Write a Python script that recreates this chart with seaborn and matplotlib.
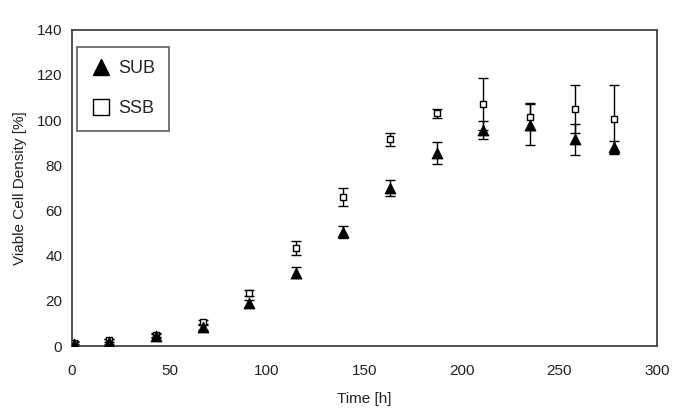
import numpy as np
import pandas as pd
import seaborn as sns
import matplotlib
matplotlib.use("Agg")
import matplotlib.pyplot as plt
from matplotlib.lines import Line2D

# Values
time_h = [1, 19, 43, 67, 91, 115, 139, 163, 187, 211, 235, 258, 278]
sub_mean = [1.0, 2.0, 4.5, 8.5, 19.0, 32.5, 50.5, 70.0, 85.5, 95.5, 98.0, 91.5, 88.0]
sub_err = [0.8, 1.0, 1.0, 1.2, 1.5, 2.5, 2.5, 3.5, 4.7, 4.0, 9.0, 7.0, 3.0]
ssb_mean = [1.5, 2.5, 5.0, 10.5, 23.5, 43.5, 66.0, 91.5, 103.0, 107.0, 101.5, 105.0, 100.5]
ssb_err = [0.8, 0.8, 1.0, 1.2, 1.5, 3.0, 4.0, 3.0, 2.0, 11.5, 6.0, 10.5, 15.0]

df = pd.DataFrame({
    "time": time_h * 2,
    "value": sub_mean + ssb_mean,
    "err": sub_err + ssb_err,
    "group": ["SUB"] * len(time_h) + ["SSB"] * len(time_h),
})

sns.set_style("white")
plt.rcParams["font.family"] = ["Liberation Sans", "DejaVu Sans"]

fig = plt.figure(figsize=(6.85, 4.2), dpi=100)
ax = fig.add_axes([0.105, 0.176, 0.854, 0.753])

edge = "#333333"

# error bars first, markers on top
for grp in ["SSB", "SUB"]:
    d = df[df["group"] == grp]
    ax.errorbar(d["time"], d["value"], yerr=d["err"], fmt="none",
                ecolor="black", elinewidth=1.0, capsize=3.3, capthick=1.0, zorder=2)

d = df[df["group"] == "SSB"]
sns.scatterplot(x=d["time"], y=d["value"], marker="s", s=24,
                facecolor="white", edgecolor="black", linewidth=1.0, ax=ax, zorder=3)
d = df[df["group"] == "SUB"]
sns.scatterplot(x=d["time"], y=d["value"], marker="^", s=62,
                color="black", edgecolor="black", linewidth=0.6, ax=ax, zorder=4)

ax.set_xlim(0, 300)
ax.set_ylim(0, 140)
ax.set_xticks(np.arange(0, 301, 50))
ax.set_yticks(np.arange(0, 141, 20))
ax.tick_params(axis="both", direction="out", length=5, width=1.0, color=edge,
               labelsize=11, labelcolor="#222222", pad=8)
ax.tick_params(axis="y", pad=2)
for sp in ax.spines.values():
    sp.set_color(edge)
    sp.set_linewidth(1.2)

ax.set_xlabel("Time [h]", fontsize=11, color="#222222", labelpad=10)
ax.set_ylabel("Viable Cell Density [%]", fontsize=11, color="#222222", labelpad=7)

handles = [
    Line2D([], [], marker="^", color="black", linestyle="none", markersize=12),
    Line2D([], [], marker="s", markerfacecolor="white", markeredgecolor="black",
           linestyle="none", markersize=11, markeredgewidth=1.0),
]
leg = ax.legend(handles, ["SUB", "SSB"], loc="upper left", bbox_to_anchor=(0.0085, 0.946),
                borderaxespad=0, fontsize=13, frameon=True, fancybox=False, edgecolor=edge,
                handletextpad=0.35, labelspacing=1.25, borderpad=0.75, handlelength=1.2)
leg.get_frame().set_linewidth(1.2)

fig.savefig("out.png", dpi=100)
